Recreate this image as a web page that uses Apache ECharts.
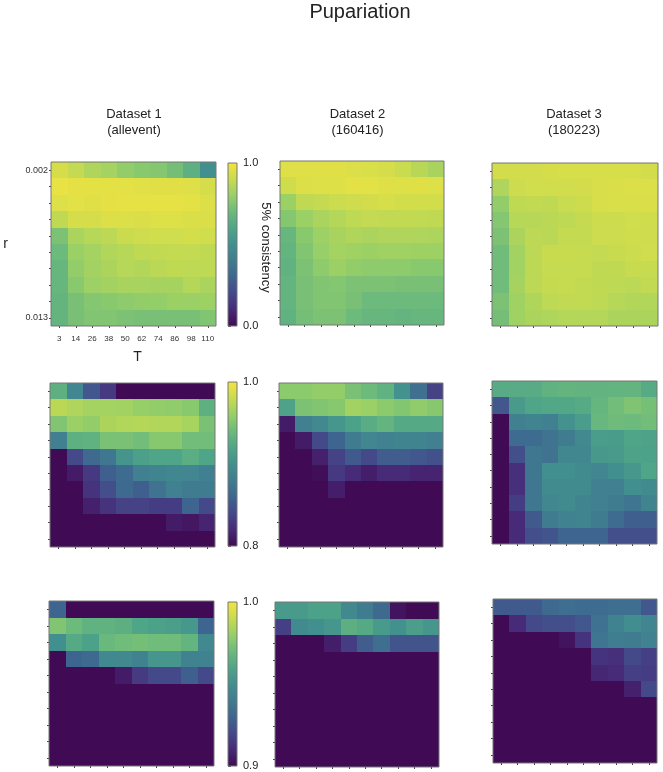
<!DOCTYPE html>
<html>
<head>
<meta charset="utf-8">
<style>html,body{margin:0;padding:0;background:#fff}#chart{width:663px;height:772px}</style>
<script src="https://cdn.jsdelivr.net/npm/echarts@6/dist/echarts.min.js"></script>
</head>
<body>
<div id="chart"></div>
<script>
// T on x, r on y (top row is 0.002)
const tLabels = ['3', '14', '26', '38', '50', '62', '74', '86', '98', '110']
const rLabels = ['0.002', '', '', '', '', '', '', '', '', '0.013']
const datasetTitles = ['Dataset 1\n(allevent)', 'Dataset 2\n(160416)', 'Dataset 3\n(180223)']
const rowRanges = [[0, 1], [0.8, 1], [0.9, 1]]
const rowIntervals = [0.2, 0.04, 0.02]

// 5% consistency, one row per r
const dataset1 = [
  [0.93, 0.89, 0.85, 0.83, 0.79, 0.77, 0.76, 0.72, 0.65, 0.5],
  [0.975, 0.97, 0.966, 0.966, 0.965, 0.96, 0.958, 0.957, 0.954, 0.93],
  [0.95, 0.962, 0.958, 0.969, 0.971, 0.972, 0.971, 0.971, 0.967, 0.947],
  [0.884, 0.93, 0.932, 0.947, 0.947, 0.943, 0.953, 0.953, 0.943, 0.943],
  [0.74, 0.84, 0.864, 0.876, 0.905, 0.915, 0.92, 0.92, 0.928, 0.92],
  [0.7, 0.81, 0.83, 0.856, 0.866, 0.884, 0.888, 0.892, 0.89, 0.884],
  [0.68, 0.79, 0.826, 0.844, 0.864, 0.856, 0.872, 0.884, 0.88, 0.88],
  [0.68, 0.77, 0.814, 0.826, 0.836, 0.836, 0.832, 0.832, 0.86, 0.84],
  [0.67, 0.73, 0.76, 0.77, 0.78, 0.79, 0.795, 0.81, 0.808, 0.816],
  [0.67, 0.73, 0.75, 0.75, 0.74, 0.73, 0.73, 0.73, 0.73, 0.75]
]
const dataset2 = [
  [0.955, 0.955, 0.958, 0.958, 0.947, 0.94, 0.932, 0.903, 0.87, 0.836],
  [0.917, 0.948, 0.95, 0.953, 0.965, 0.962, 0.955, 0.951, 0.957, 0.953],
  [0.81, 0.884, 0.894, 0.906, 0.916, 0.927, 0.934, 0.924, 0.924, 0.924],
  [0.76, 0.81, 0.84, 0.86, 0.88, 0.89, 0.886, 0.888, 0.888, 0.884],
  [0.68, 0.77, 0.814, 0.836, 0.852, 0.84, 0.854, 0.854, 0.85, 0.846],
  [0.67, 0.75, 0.802, 0.83, 0.82, 0.812, 0.82, 0.82, 0.816, 0.816],
  [0.66, 0.74, 0.78, 0.812, 0.79, 0.78, 0.78, 0.78, 0.77, 0.77],
  [0.67, 0.73, 0.75, 0.76, 0.74, 0.74, 0.74, 0.73, 0.73, 0.73],
  [0.67, 0.73, 0.75, 0.75, 0.73, 0.7, 0.7, 0.7, 0.7, 0.7],
  [0.66, 0.72, 0.74, 0.74, 0.7, 0.68, 0.68, 0.67, 0.68, 0.68]
]
const dataset3 = [
  [0.926, 0.926, 0.926, 0.932, 0.934, 0.933, 0.933, 0.934, 0.934, 0.925],
  [0.85, 0.91, 0.92, 0.922, 0.922, 0.925, 0.935, 0.943, 0.949, 0.945],
  [0.79, 0.884, 0.888, 0.884, 0.903, 0.913, 0.937, 0.941, 0.94, 0.943],
  [0.76, 0.866, 0.866, 0.872, 0.88, 0.894, 0.913, 0.912, 0.92, 0.917],
  [0.74, 0.844, 0.876, 0.872, 0.892, 0.892, 0.909, 0.91, 0.917, 0.916],
  [0.71, 0.824, 0.876, 0.9, 0.9, 0.896, 0.89, 0.9, 0.907, 0.92],
  [0.71, 0.824, 0.876, 0.896, 0.896, 0.896, 0.884, 0.884, 0.9, 0.896],
  [0.71, 0.832, 0.876, 0.892, 0.896, 0.888, 0.884, 0.88, 0.874, 0.888],
  [0.74, 0.82, 0.852, 0.88, 0.886, 0.888, 0.88, 0.866, 0.856, 0.856],
  [0.72, 0.82, 0.844, 0.848, 0.86, 0.86, 0.86, 0.844, 0.844, 0.844]
]
const datasets = [dataset1, dataset2, dataset3]

const colors = ['#400b54', '#472a78', '#44498a', '#3e6590', '#3f7c90', '#428f8f', '#4fa587', '#6cba7c', '#96cf68', '#c8db4f', '#f2e440']
const fontFamily = '"Liberation Sans", Arial, sans-serif'
const frame = '#777'

// panel boxes [left, top, width, height]
const panelBoxes = [
  [[51, 162, 165, 164], [280, 161, 164, 164], [492, 163, 166, 163]],
  [[50, 383, 165, 164], [279, 383, 164, 164], [492, 381, 165, 163]],
  [[49, 601, 165, 165], [275, 602, 164, 165], [493, 599, 164, 164]]
]
const barBoxes = [[228, 163, 9, 163], [228, 382, 9, 164], [228, 602, 9, 164]]

const grid = []
const xAxis = []
const yAxis = []
const series = []
const visualMap = []

// gradient strip for a colour bar, bottom of the range at the bottom
function renderBar (params, api) {
  const a = api.coord([0, api.value(1)])
  const b = api.coord([1, api.value(2)])
  return {
    type: 'rect',
    shape: { x: a[0], y: b[1], width: b[0] - a[0], height: a[1] - b[1] },
    style: {
      fill: new echarts.graphic.LinearGradient(0, 1, 0, 0, colors.map((color, i) => ({ offset: i / (colors.length - 1), color })))
    }
  }
}

// one heatmap cell, edges on whole pixels so no seams show between neighbours
function renderCell (params, api) {
  const c = api.coord([api.value(0), api.value(1)])
  const size = api.size([1, 1])
  const x0 = Math.round(c[0] - size[0] / 2)
  const x1 = Math.round(c[0] + size[0] / 2)
  const y0 = Math.round(c[1] - size[1] / 2)
  const y1 = Math.round(c[1] + size[1] / 2)
  return {
    type: 'rect',
    shape: { x: x0, y: y0, width: x1 - x0, height: y1 - y0 },
    style: { fill: api.visual('color') }
  }
}

panelBoxes.forEach((boxes, row) => {
  const range = rowRanges[row]
  const ids = []
  boxes.forEach((box, col) => {
    const first = row === 0 && col === 0
    const idx = grid.length
    grid.push({ show: true, z: 3, left: box[0], top: box[1], width: box[2], height: box[3], borderColor: frame, borderWidth: 1, backgroundColor: 'transparent' })
    xAxis.push({
      type: 'category',
      gridIndex: idx,
      data: tLabels,
      name: first ? 'T' : '',
      nameLocation: 'middle',
      nameGap: 24,
      nameTextStyle: { fontFamily, fontSize: 14, color: '#222', padding: [0, 0, 0, 8] },
      axisLine: { show: false },
      axisTick: { show: true, alignWithLabel: true, length: 2, lineStyle: { color: '#444' } },
      axisLabel: { show: first, interval: 0, margin: 9, fontFamily, fontSize: 8, color: '#333' },
      splitLine: { show: false }
    })
    yAxis.push({
      type: 'category',
      gridIndex: idx,
      inverse: true,
      data: rLabels,
      name: first ? 'r' : '',
      nameLocation: 'middle',
      nameRotate: 0,
      nameGap: 43,
      nameTextStyle: { fontFamily, fontSize: 14, color: '#222', padding: [0, 0, 8, 0] },
      axisLine: { show: false },
      axisTick: { show: true, alignWithLabel: true, length: 2, lineStyle: { color: '#444' } },
      axisLabel: { show: first, interval: 0, margin: 3, fontFamily, fontSize: 9, color: '#333' },
      splitLine: { show: false }
    })
    const cells = []
    datasets[col].forEach((vals, r) => {
      vals.forEach((v, t) => {
        // anything under the colour range sits at the bottom of the bar
        cells.push([t, r, Math.max(v, range[0])])
      })
    })
    ids.push(series.length)
    series.push({
      type: 'custom',
      xAxisIndex: idx,
      yAxisIndex: idx,
      silent: true,
      encode: { x: 0, y: 1 },
      renderItem: renderCell,
      data: cells
    })
  })

  // colour bar: ticks and labels from a value axis
  const bar = barBoxes[row]
  const barIdx = grid.length
  grid.push({ show: true, z: 3, left: bar[0], top: bar[1], width: bar[2], height: bar[3], borderColor: frame, borderWidth: 1, backgroundColor: 'transparent' })
  xAxis.push({ type: 'value', gridIndex: barIdx, show: false, min: 0, max: 1 })
  yAxis.push({
    type: 'value',
    gridIndex: barIdx,
    position: 'right',
    min: range[0],
    max: range[1],
    interval: rowIntervals[row],
    name: row === 0 ? '5% consistency' : '',
    nameLocation: 'middle',
    nameRotate: -90,
    nameGap: 22,
    nameMoveOverlap: false,
    nameTextStyle: { fontFamily, fontSize: 13, color: '#222', padding: [0, 0, 0, 6] },
    axisLine: { show: false },
    axisTick: { show: true, length: 3, lineStyle: { color: '#555' } },
    axisLabel: { show: true, customValues: range, margin: 6, fontFamily, fontSize: 11, color: '#222', formatter: v => v.toFixed(1) },
    splitLine: { show: false }
  })
  series.push({
    type: 'custom',
    xAxisIndex: barIdx,
    yAxisIndex: barIdx,
    silent: true,
    renderItem: renderBar,
    data: [[0, range[0], range[1]]]
  })
  visualMap.push({
    type: 'continuous',
    show: false,
    seriesIndex: ids,
    dimension: 2,
    min: range[0],
    max: range[1],
    inRange: { color: colors }
  })
})

const titles = [{ text: 'Pupariation', left: 360, top: 2, padding: 0, textAlign: 'center', textStyle: { fontFamily, fontSize: 20, fontWeight: 'normal', color: '#222' } }]
const titleCentres = [134, 357.5, 574]
datasetTitles.forEach((text, i) => {
  titles.push({ text, left: titleCentres[i], top: 106, padding: 0, textAlign: 'center', textStyle: { fontFamily, fontSize: 13, fontWeight: 'normal', color: '#222', lineHeight: 16 } })
})

const chart = echarts.init(document.getElementById('chart'), null, { renderer: 'canvas' })
chart.setOption({
  animation: false,
  backgroundColor: '#fff',
  title: titles,
  tooltip: { show: false },
  grid,
  xAxis,
  yAxis,
  visualMap,
  series
})
</script>
</body>
</html>
